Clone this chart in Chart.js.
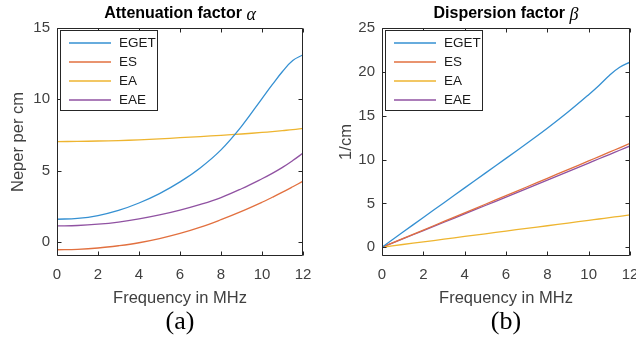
<!DOCTYPE html>
<html>
<head>
<meta charset="utf-8">
<script src="https://cdn.jsdelivr.net/npm/chart.js@4"></script>
<style>
  html, body { margin: 0; padding: 0; background: #fff; overflow: hidden; }
  canvas { position: absolute; top: 0; }
  #alpha { left: 0; }
  #beta { left: 318px; }
</style>
</head>
<body>
<canvas id="alpha" width="318" height="345"></canvas>
<canvas id="beta" width="318" height="345"></canvas>
<script>
const freq = [0, 1, 2, 3, 4, 5, 6, 7, 8, 9, 10, 10.5, 11, 11.5, 12];
const xTicks = [0, 2, 4, 6, 8, 10, 12];
const alphaTicks = [0, 5, 10, 15];
const betaTicks = [0, 5, 10, 15, 20, 25];
const names = ["EGET", "ES", "EA", "EAE"];

// attenuation (Neper per cm)
const alphaEGET = [1.58, 1.64, 1.84, 2.2, 2.72, 3.38, 4.2, 5.2, 6.45, 8.1, 10.05, 11.02, 11.95, 12.72, 13.12];
const alphaES = [-0.56, -0.53, -0.44, -0.28, -0.07, 0.22, 0.58, 1.02, 1.55, 2.13, 2.77, 3.12, 3.48, 3.86, 4.25];
const alphaEA = [7.03, 7.04, 7.07, 7.1, 7.15, 7.22, 7.3, 7.38, 7.47, 7.56, 7.67, 7.73, 7.8, 7.87, 7.96];
const alphaEAE = [1.11, 1.14, 1.23, 1.38, 1.6, 1.88, 2.22, 2.62, 3.1, 3.72, 4.42, 4.8, 5.22, 5.7, 6.22];

// dispersion (1/cm)
const betaEGET = [0, 1.7, 3.4, 5.08, 6.77, 8.45, 10.13, 11.83, 13.57, 15.42, 17.4, 18.45, 19.58, 20.52, 21.1];
const betaES = [0, 0.98, 1.96, 2.94, 3.92, 4.9, 5.88, 6.87, 7.86, 8.85, 9.84, 10.34, 10.84, 11.34, 11.84];
const betaEA = [0, 0.31, 0.61, 0.92, 1.23, 1.53, 1.84, 2.15, 2.45, 2.76, 3.07, 3.22, 3.37, 3.53, 3.68];
const betaEAE = [0, 0.95, 1.9, 2.85, 3.8, 4.76, 5.72, 6.68, 7.65, 8.62, 9.6, 10.09, 10.57, 11.06, 11.55];

const colors = ["#3590d2", "#e2703f", "#eeb530", "#9052a2"];
const axisColor = "#262626";
const sans = "'Liberation Sans', Arial, sans-serif";
const serif = "'Liberation Serif', 'DejaVu Serif', serif";

// frame, inward ticks, legend and all the text round the axes
const decor = {
  id: "decor",
  afterDraw(chart, args, o) {
    const { ctx, chartArea: a, scales } = chart;
    const L = a.left + 0.5, R = a.right - 0.5, T = a.top + 0.5, B = a.bottom - 0.5;
    ctx.save();
    ctx.strokeStyle = axisColor;
    ctx.lineWidth = 1;
    ctx.beginPath();
    ctx.rect(L, T, R - L, B - T);
    xTicks.forEach(v => {
      const px = Math.round(scales.x.getPixelForValue(v)) + 0.5;
      ctx.moveTo(px, B); ctx.lineTo(px, B - 4);
      ctx.moveTo(px, T); ctx.lineTo(px, T + 4);
    });
    o.yTicks.forEach(v => {
      const py = Math.round(scales.y.getPixelForValue(v)) + 0.5;
      ctx.moveTo(L, py); ctx.lineTo(L + 4, py);
      ctx.moveTo(R, py); ctx.lineTo(R - 4, py);
    });
    ctx.stroke();

    // legend
    const lx = a.left + 3, ly = a.top + 2, lw = 97, lh = 80;
    ctx.fillStyle = "#fff";
    ctx.fillRect(lx, ly, lw, lh);
    ctx.strokeRect(lx + 0.5, ly + 0.5, lw, lh);
    ctx.font = "13.5px " + sans;
    ctx.textBaseline = "middle";
    ctx.textAlign = "left";
    chart.data.datasets.forEach((ds, i) => {
      const yy = ly + 13 + i * 19;
      ctx.strokeStyle = ds.borderColor;
      ctx.lineWidth = 1.4;
      ctx.beginPath();
      ctx.moveTo(lx + 9, yy); ctx.lineTo(lx + 51, yy);
      ctx.stroke();
      ctx.fillStyle = "#1a1a1a";
      ctx.fillText(ds.label, lx + 59, yy);
    });

    const cx = (a.left + a.right) / 2;
    // title: bold words followed by an italic greek symbol
    ctx.fillStyle = "#000";
    ctx.font = "bold 16px " + sans;
    const w1 = ctx.measureText(o.title).width;
    ctx.font = "italic 18px " + serif;
    const w2 = ctx.measureText(o.symbol).width;
    const tx = cx - (w1 + w2) / 2;
    ctx.font = "bold 16px " + sans;
    ctx.fillText(o.title, tx, 14);
    ctx.font = "italic 18px " + serif;
    ctx.fillText(o.symbol, tx + w1, 15);

    ctx.fillStyle = "#404040";
    ctx.textAlign = "center";
    ctx.font = "16.5px " + sans;
    ctx.fillText("Frequency in MHz", cx, 298);
    ctx.save();
    ctx.translate(o.yTitleX, (a.top + a.bottom) / 2);
    ctx.rotate(-Math.PI / 2);
    ctx.fillText(o.yTitle, 0, 0);
    ctx.restore();

    ctx.fillStyle = "#000";
    ctx.font = "26px " + serif;
    ctx.fillText(o.panel, cx, 322);
    ctx.restore();
  }
};

function makeChart(id, series, yMin, yMax, yTicks, left, right, opts) {
  return new Chart(document.getElementById(id), {
    type: "line",
    data: {
      datasets: series.map((vals, i) => ({
        label: names[i],
        data: freq.map((f, k) => ({ x: f, y: vals[k] })),
        borderColor: colors[i],
        borderWidth: 1.3,
        pointRadius: 0,
        tension: 0.4,
        fill: false
      }))
    },
    options: {
      responsive: false,
      animation: false,
      devicePixelRatio: 1,
      layout: { padding: { top: 28, right: right, left: 0, bottom: 0 } },
      plugins: {
        legend: { display: false },
        tooltip: { enabled: false },
        decor: Object.assign({ yTicks: yTicks }, opts)
      },
      scales: {
        x: {
          type: "linear",
          min: 0, max: 12,
          grid: { display: false, drawTicks: false },
          border: { display: false },
          afterBuildTicks: s => { s.ticks = xTicks.map(v => ({ value: v })); },
          afterFit: s => { s.height = 89; s.paddingLeft = 0; s.paddingRight = 0; },
          ticks: { font: { family: sans, size: 15 }, color: "#404040", padding: 10, maxRotation: 0 }
        },
        y: {
          min: yMin, max: yMax,
          grid: { display: false, drawTicks: false },
          border: { display: false },
          afterBuildTicks: s => { s.ticks = yTicks.map(v => ({ value: v })); },
          afterFit: s => { s.width = left; s.paddingTop = 0; s.paddingBottom = 0; },
          ticks: { font: { family: sans, size: 15 }, color: "#404040", padding: 7 }
        }
      }
    },
    plugins: [decor]
  });
}

makeChart("alpha", [alphaEGET, alphaES, alphaEA, alphaEAE], -1, 15, alphaTicks, 57, 15,
  { title: "Attenuation factor ", symbol: "α", yTitle: "Neper per cm", yTitleX: 18, panel: "(a)" });
makeChart("beta", [betaEGET, betaES, betaEA, betaEAE], -1, 25, betaTicks, 64, 6,
  { title: "Dispersion factor ", symbol: "β", yTitle: "1/cm", yTitleX: 28, panel: "(b)" });
</script>
</body>
</html>
